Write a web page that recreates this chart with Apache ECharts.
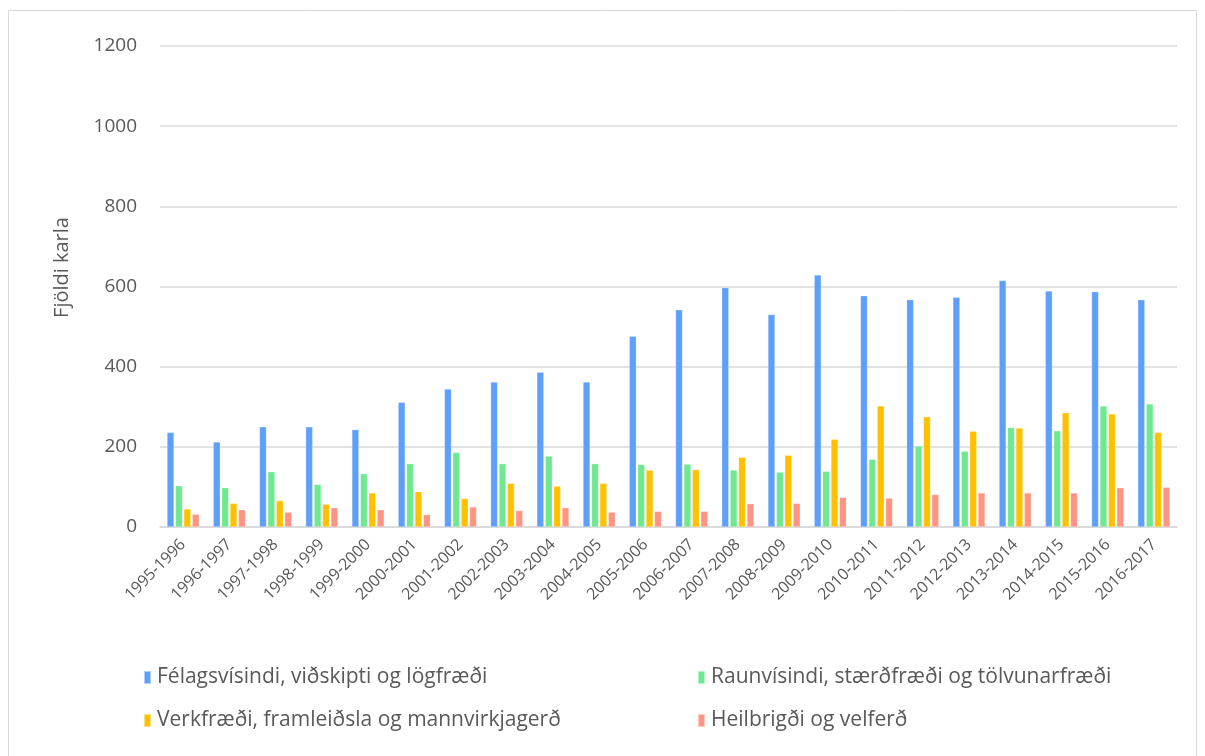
<!DOCTYPE html>
<html>
<head>
<meta charset="utf-8">
<script src="https://cdn.jsdelivr.net/npm/echarts@6/dist/echarts.min.js"></script>
<style>
  html, body { margin: 0; padding: 0; background: #fff; }
  #chart { width: 1205px; height: 756px; }
</style>
</head>
<body>
<div id="chart"></div>
<script>
// skólaár
var years = ['1995-1996', '1996-1997', '1997-1998', '1998-1999', '1999-2000', '2000-2001',
  '2001-2002', '2002-2003', '2003-2004', '2004-2005', '2005-2006', '2006-2007', '2007-2008',
  '2008-2009', '2009-2010', '2010-2011', '2011-2012', '2012-2013', '2013-2014', '2014-2015',
  '2015-2016', '2016-2017']

var felagsvisindi = [236, 212, 250, 250, 243, 311, 344, 362, 386, 362, 476, 542, 597, 530, 629, 577, 567, 573, 615, 589, 587, 567]
var raunvisindi = [103, 98, 138, 106, 133, 158, 186, 158, 177, 158, 156, 157, 142, 137, 139, 169, 202, 189, 248, 240, 302, 307]
var verkfraedi = [45, 59, 66, 57, 85, 88, 71, 109, 102, 109, 142, 143, 174, 179, 219, 302, 275, 239, 247, 285, 282, 236]
var heilbrigdi = [32, 43, 37, 48, 43, 31, 50, 41, 48, 37, 39, 39, 58, 59, 74, 72, 81, 85, 85, 85, 98, 99]

var yTicks = [0, 200, 400, 600, 800, 1000, 1200]

var names = [
  'Félagsvísindi, viðskipti og lögfræði',
  'Raunvísindi, stærðfræði og tölvunarfræði',
  'Verkfræði, framleiðsla og mannvirkjagerð',
  'Heilbrigði og velferð'
]
var colors = ['#5f9ffc', '#6ee98f', '#ffc000', '#ff9483']
var font = '"Open Sans", sans-serif'

var chart = echarts.init(document.getElementById('chart'))

function barSeries(i, data) {
  return {
    name: names[i],
    type: 'bar',
    data: data,
    barWidth: 7,
    barGap: '20%',
    itemStyle: { color: colors[i], borderColor: 'rgba(255,255,255,0.5)', borderWidth: 0.5 }
  }
}

var legendText = { color: '#595959', fontSize: 21, fontFamily: font, padding: [0, 0, 0, 1] }

chart.setOption({
  animation: false,
  color: colors,
  graphic: [{
    type: 'rect',
    shape: { x: 8.5, y: 10.5, width: 1188, height: 760 },
    style: { fill: 'none', stroke: '#d9d9d9', lineWidth: 1 },
    silent: true
  }],
  grid: { left: 160, right: 28, top: 46, bottom: 229 },
  legend: [{
    data: [names[0], names[2]],
    orient: 'vertical',
    left: 138,
    top: 662,
    itemWidth: 7,
    itemHeight: 13,
    itemGap: 22,
    icon: 'rect',
    textStyle: legendText
  }, {
    data: [names[1], names[3]],
    orient: 'vertical',
    left: 692,
    top: 662,
    itemWidth: 7,
    itemHeight: 13,
    itemGap: 22,
    icon: 'rect',
    textStyle: legendText
  }],
  xAxis: {
    type: 'category',
    data: years,
    axisLine: { lineStyle: { color: '#d9d9d9', width: 1.5 } },
    axisTick: { show: false },
    axisLabel: { rotate: 45, color: '#595959', fontSize: 16, fontFamily: font, interval: 0, margin: 15 }
  },
  yAxis: {
    type: 'value',
    min: yTicks[0],
    max: yTicks[yTicks.length - 1],
    interval: 200,
    name: 'Fjöldi karla',
    nameLocation: 'middle',
    nameGap: 88,
    nameTextStyle: { color: '#595959', fontSize: 20, fontFamily: font, padding: [0, 0, 0, 38] },
    axisLine: { show: false },
    axisTick: { show: false },
    axisLabel: { color: '#595959', fontSize: 19, fontFamily: font, margin: 23, formatter: function (v) { return String(v) } },
    splitLine: { lineStyle: { color: '#d9d9d9', width: 1.5 } }
  },
  series: [
    barSeries(0, felagsvisindi),
    barSeries(1, raunvisindi),
    barSeries(2, verkfraedi),
    barSeries(3, heilbrigdi)
  ]
})
</script>
</body>
</html>
